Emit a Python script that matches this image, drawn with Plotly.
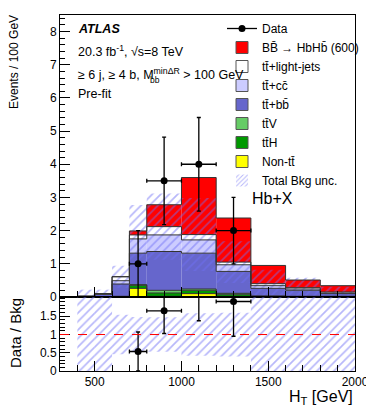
import numpy as np
import plotly.graph_objects as go
from plotly.subplots import make_subplots

# H_T bins (GeV) and stacked yields, events / 100 GeV
edges = [400, 500, 600, 700, 800, 1000, 1200, 1400, 1600, 1800, 2000]
non_tt = [0, 0, 0, 0.26, 0.02, 0.10, 0.02, 0.005, 0.005, 0.01]
tth = [0, 0, 0.01, 0.09, 0.10, 0.10, 0.06, 0.015, 0.01, 0.005]
ttv = [0, 0, 0.01, 0.02, 0.08, 0.04, 0.03, 0.01, 0.005, 0.005]
ttbb = [0.02, 0.08, 0.37, 0.95, 1.17, 1.08, 0.66, 0.23, 0.18, 0.08]
ttcc = [0, 0.01, 0.10, 0.43, 0.50, 0.40, 0.20, 0.08, 0.04, 0.02]
ttlight = [0, 0.01, 0.12, 0.12, 0.25, 0.16, 0.08, 0.06, 0.04, 0.03]
signal = [0, 0, 0, 0.12, 0.66, 1.72, 1.33, 0.55, 0.23, 0.19]
bkg_unc = [0.2, 0.12, 0.33, 0.9, 1.0, 1.1, 0.63, 0.42, 0.3, 0.16]

data_x = [750, 900, 1100, 1300]
data_xerr = [50, 100, 100, 100]
data_y = [1.0, 3.5, 4.0, 2.0]
data_yerr = [1.0, 1.32, 1.41, 1.0]

FONT = "Liberation Sans, Arial, sans-serif"
# the page body adds an 8px margin, so the figure is 8px smaller than the window
W, H = 366, 406
ML, MR, MT, MB = 52, 19, 7, 43


# screen pixel -> plot-area paper coords (plot area spans x 60..355, y 15..371 on screen)
def px(x):
    return (x - 60) / 295


def py(y):
    return 1 - (y - 15) / 356


e = np.array(edges, dtype=float)
centers = (e[:-1] + e[1:]) / 2
widths = np.diff(e)

components = [
    ("Non-tt\u0304", non_tt, "#ffff00"),
    ("tt\u0304H", tth, "#009900"),
    ("tt\u0304V", ttv, "#66cc66"),
    ("tt\u0304+bb\u0304", ttbb, "#6666cc"),
    ("tt\u0304+cc\u0304", ttcc, "#ccccff"),
    ("tt\u0304+light-jets", ttlight, "#ffffff"),
    ("BB\u0304 \u2192 HbHb\u0304 (600)", signal, "#ff0000"),
]
legend_rank = {"BB\u0304 \u2192 HbHb\u0304 (600)": 2, "tt\u0304+light-jets": 3, "tt\u0304+cc\u0304": 4,
               "tt\u0304+bb\u0304": 5, "tt\u0304V": 6, "tt\u0304H": 7, "Non-tt\u0304": 8}

bkg = np.sum([np.array(c[1]) for c in components[:-1]], axis=0)
unc = np.array(bkg_unc)

fig = make_subplots(rows=2, cols=1, shared_xaxes=True, vertical_spacing=0,
                    row_heights=[0.792, 0.208])

# stacked histograms
base = np.zeros(len(centers))
tops = []
for name, vals, col in components:
    v = np.array(vals, dtype=float)
    fig.add_trace(go.Bar(x=centers, y=v, base=base.copy(), width=widths, marker=dict(color=col, line=dict(width=0)),
                         showlegend=False, hoverinfo="skip"), row=1, col=1)
    base = base + v
    tops.append(base.copy())

# step outlines of each stack level
for t in tops:
    fig.add_trace(go.Scatter(x=e, y=list(t) + [t[-1]], mode="lines", line=dict(color="#333333", width=1, shape="hv"),
                             showlegend=False, hoverinfo="skip"), row=1, col=1)

# total background uncertainty band
hatch = dict(color="rgba(0,0,0,0)", line=dict(width=0),
             pattern=dict(shape="/", fgcolor="#6f6ff5", size=6, solidity=0.28))
fig.add_trace(go.Bar(x=centers, y=2 * unc, base=bkg - unc, width=widths, marker=hatch,
                     showlegend=False, hoverinfo="skip"), row=1, col=1)

# data
fig.add_trace(go.Scatter(x=data_x, y=data_y, mode="markers", marker=dict(color="black", size=7),
                         error_x=dict(array=data_xerr, color="black", thickness=1.3, width=2),
                         error_y=dict(array=data_yerr, color="black", thickness=1.3, width=2),
                         showlegend=False), row=1, col=1)

# legend entries
fig.add_trace(go.Scatter(x=[None], y=[None], mode="lines+markers", name="Data", legendrank=1,
                         line=dict(color="black", width=1.3), marker=dict(color="black", size=7)), row=1, col=1)
for name, vals, col in components:
    fig.add_trace(go.Bar(x=[None], y=[None], name=name, legendrank=legend_rank[name],
                         marker=dict(color=col, line=dict(color="#555555", width=1))), row=1, col=1)
fig.add_trace(go.Bar(x=[None], y=[None], name="Total Bkg unc.", legendrank=9,
                     marker=dict(color="rgba(0,0,0,0)", line=dict(width=0),
                                 pattern=dict(shape="/", fgcolor="#6f6ff5", size=4, solidity=0.3))), row=1, col=1)

# ratio panel
rel = unc / np.maximum(bkg, 1e-9)
fig.add_trace(go.Bar(x=centers, y=2 * rel, base=1 - rel, width=widths, marker=hatch,
                     showlegend=False, hoverinfo="skip"), row=2, col=1)
idx = np.searchsorted(e, data_x) - 1
ratio = np.array(data_y) / bkg[idx]
ratio_err = np.array(data_yerr) / bkg[idx]
fig.add_hline(y=1, line=dict(color="red", width=1, dash="dash"), row=2, col=1)
fig.add_trace(go.Scatter(x=data_x, y=ratio, mode="markers", marker=dict(color="black", size=7),
                         error_x=dict(array=data_xerr, color="black", thickness=1.3, width=2),
                         error_y=dict(array=ratio_err, color="black", thickness=1.3, width=2),
                         showlegend=False), row=2, col=1)

axis_common = dict(showline=True, linecolor="black", linewidth=1, mirror=True, showgrid=False, zeroline=False,
                   ticks="inside", tickcolor="black", tickfont=dict(family=FONT, size=12, color="black"))
fig.update_xaxes(axis_common, type="linear", range=[300, 2000], tick0=0, dtick=500, ticklen=10,
                 minor=dict(ticks="inside", ticklen=6, dtick=100, tick0=0, tickcolor="black"))
fig.update_xaxes(showticklabels=False, row=1, col=1)
fig.update_xaxes(showticklabels=True, row=2, col=1)
fig.update_yaxes(axis_common, range=[0, 8.5], tick0=0, dtick=1, ticklen=10,
                 minor=dict(ticks="inside", ticklen=5, dtick=0.2, tickcolor="black"), row=1, col=1)
fig.update_yaxes(axis_common, range=[0, 2.03], tickvals=[0, 0.5, 1, 1.5], ticktext=["0", "0.5", "1", "1.5"], ticklen=10,
                 minor=dict(ticks="inside", ticklen=5, dtick=0.1, tickcolor="black"), row=2, col=1)

txt = dict(xref="paper", yref="paper", showarrow=False, xanchor="left", yanchor="middle",
           font=dict(family=FONT, size=12.5, color="black"))
fig.add_annotation(txt, x=px(76), y=py(29), text="<b><i>ATLAS</i></b>")
fig.add_annotation(txt, x=px(76), y=py(51), text="20.3 fb<sup>-1</sup>, \u221as=8 TeV")
fig.add_annotation(txt, x=px(76), y=py(74), text="\u2265 6 j, \u2265 4 b, M<sup>min\u0394R</sup> > 100 GeV")
fig.add_annotation(txt, x=px(148), y=py(80), text="bb", font=dict(family=FONT, size=8.5, color="black"))
fig.add_annotation(txt, x=px(76), y=py(94), text="Pre-fit")
fig.add_annotation(txt, x=px(250), y=py(198), text="Hb+X", font=dict(family=FONT, size=16, color="black"))
fig.add_annotation(xref="paper", yref="paper", showarrow=False, x=px(14), y=py(13), xanchor="center", yanchor="top",
                   textangle=-90, text="Events / 100 GeV", font=dict(family=FONT, size=12, color="black"))
fig.add_annotation(xref="paper", yref="paper", showarrow=False, x=px(15), y=py(333), xanchor="center",
                   yanchor="middle", textangle=-90, text="Data / Bkg", font=dict(family=FONT, size=15, color="black"))
fig.add_annotation(xref="paper", yref="paper", showarrow=False, x=1, y=py(397), xanchor="right", yanchor="middle",
                   text="H<sub>T</sub> [GeV]", font=dict(family=FONT, size=16, color="black"))

fig.update_layout(
    width=W, height=H, margin=dict(l=ML, r=MR, t=MT, b=MB, autoexpand=False),
    barmode="overlay", paper_bgcolor="white", plot_bgcolor="white",
    font=dict(family=FONT, color="black"),
    legend=dict(x=px(222), y=py(14), xanchor="left", yanchor="top", bgcolor="rgba(0,0,0,0)",
                font=dict(family=FONT, size=12, color="black"), tracegroupgap=0, traceorder="normal"),
)
fig.write_html("out.html")
